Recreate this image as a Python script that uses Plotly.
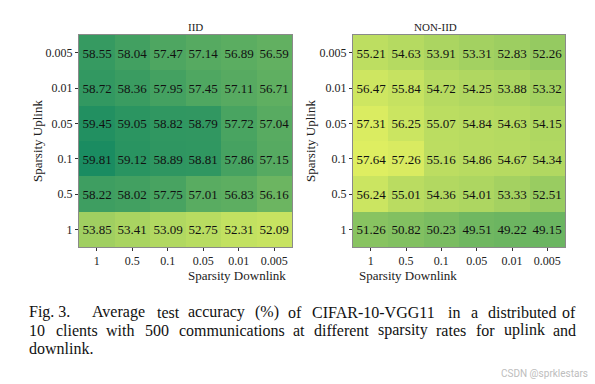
import math
import plotly.graph_objects as go

downlink = ["1", "0.5", "0.1", "0.05", "0.01", "0.005"]
uplink = ["0.005", "0.01", "0.05", "0.1", "0.5", "1"]

iid = [
    [58.55, 58.04, 57.47, 57.14, 56.89, 56.59],
    [58.72, 58.36, 57.95, 57.45, 57.11, 56.71],
    [59.45, 59.05, 58.82, 58.79, 57.72, 57.04],
    [59.81, 59.12, 58.89, 58.81, 57.86, 57.15],
    [58.22, 58.02, 57.75, 57.01, 56.83, 56.16],
    [53.85, 53.41, 53.09, 52.75, 52.31, 52.09],
]
noniid = [
    [55.21, 54.63, 53.91, 53.31, 52.83, 52.26],
    [56.47, 55.84, 54.72, 54.25, 53.88, 53.32],
    [57.31, 56.25, 55.07, 54.84, 54.63, 54.15],
    [57.64, 57.26, 55.16, 54.86, 54.67, 54.34],
    [56.24, 55.01, 54.36, 54.01, 53.33, 52.51],
    [51.26, 50.82, 50.23, 49.51, 49.22, 49.15],
]

titles = ["IID", "NON-IID"]
caption_lines = [
    ["Fig. 3.", "Average", "test", "accuracy", "(%)", "of", "CIFAR-10-VGG11", "in", "a",
     "distributed", "of"],
    ["10", "clients", "with", "500", "communications", "at", "different", "sparsity",
     "rates", "for", "uplink", "and"],
    ["downlink."],
]
watermark = "CSDN @sprklestars"


def summer(t):
    r = t
    g = 0.5 + 0.5 * t
    b = 0.38
    return "rgb(%d,%d,%d)" % (round(r * 255), round(g * 255), round(b * 255))


serif = "Liberation Serif, Times New Roman, serif"

fig = go.Figure()
fig.add_trace(go.Heatmap(
    z=iid, x=downlink, y=uplink, xaxis="x", yaxis="y",
    colorscale=[[0, summer(0.78)], [1, summer(0.10)]],
    showscale=False, texttemplate="%{z:.2f}",
    textfont=dict(family=serif, size=13, color="#111"),
    hoverinfo="skip",
))
fig.add_trace(go.Heatmap(
    z=noniid, x=downlink, y=uplink, xaxis="x2", yaxis="y2",
    colorscale=[[0, summer(0.42)], [1, summer(0.87)]],
    showscale=False, texttemplate="%{z:.2f}",
    textfont=dict(family=serif, size=13, color="#111"),
    hoverinfo="skip",
))

W, H = 595, 384
ydom = [(H - 247) / H, (H - 35) / H]
xdom1 = [79 / W, 292 / W]
xdom2 = [353 / W, 565 / W]

axis_common = dict(
    showgrid=False, zeroline=False, showline=True, mirror=True,
    linecolor="#8a8a8a", linewidth=1, ticks="outside", ticklen=3,
    tickcolor="#333", tickfont=dict(family=serif, size=12, color="#222"),
    type="category",
)

fig.update_layout(
    width=W, height=H, margin=dict(l=0, r=0, t=0, b=0),
    paper_bgcolor="white", plot_bgcolor="white",
    xaxis=dict(domain=xdom1, anchor="y", **axis_common),
    yaxis=dict(domain=ydom, anchor="x", autorange="reversed", **axis_common),
    xaxis2=dict(domain=xdom2, anchor="y2", **axis_common),
    yaxis2=dict(domain=ydom, anchor="x2", autorange="reversed", **axis_common),
)


def py(y):
    return (H - y) / H


ann = []
for i, (xd, t) in enumerate(zip([xdom1, xdom2], titles)):
    cx = (xd[0] + xd[1]) / 2
    ann.append(dict(text=t, x=cx, y=py(27), xref="paper", yref="paper",
                    yanchor="middle", showarrow=False,
                    font=dict(family=serif, size=11, color="#222")))
    ann.append(dict(text="Sparsity Downlink", x=cx, y=py(275), xref="paper",
                    yref="paper", yanchor="middle", showarrow=False,
                    font=dict(family=serif, size=13, color="#222")))
    ann.append(dict(text="Sparsity Uplink", x=[37, 310][i] / W, y=(ydom[0] + ydom[1]) / 2,
                    xref="paper", yref="paper", xanchor="center", yanchor="middle",
                    showarrow=False, textangle=-90,
                    font=dict(family=serif, size=13, color="#222")))

# approximate Times advance widths (per 1000 em), rounded per glyph like the renderer
TW = {' ': 250, 'a': 444, 'b': 500, 'c': 444, 'd': 500, 'e': 444, 'f': 333, 'g': 500,
      'h': 500, 'i': 278, 'j': 278, 'k': 500, 'l': 278, 'm': 778, 'n': 500, 'o': 500,
      'p': 500, 'q': 500, 'r': 333, 's': 389, 't': 278, 'u': 500, 'v': 500, 'w': 722,
      'x': 500, 'y': 500, 'z': 444, 'A': 722, 'C': 667, 'D': 722, 'F': 556, 'G': 722,
      'I': 333, 'R': 667, 'V': 722, '.': 250, '(': 333, ')': 333, '%': 833, '-': 333}


def tw(s, fs):
    return sum(math.floor(TW.get(c, 500) * fs / 1000.0 + 0.5) for c in s) + 2


cap_fs = 16
left, right = 27, 578
line_y = [312, 330, 348]
for j, words in enumerate(caption_lines):
    yy = py(line_y[j])
    if j == len(caption_lines) - 1:
        ann.append(dict(text=" ".join(words), x=left / W, y=yy, xref="paper", yref="paper",
                        xanchor="left", yanchor="middle", showarrow=False,
                        font=dict(family=serif, size=cap_fs, color="#111")))
        continue
    widths = [tw(w, cap_fs) for w in words]
    weights = [1.0] * (len(words) - 1)
    if words[0].startswith("Fig."):
        weights[0] = 2.4
    g = (right - left - sum(widths)) / sum(weights)
    x = left
    for k, w in enumerate(words):
        if k == len(words) - 1:
            ann.append(dict(text=w, x=right / W, y=yy, xref="paper", yref="paper",
                            xanchor="right", yanchor="middle", showarrow=False,
                            font=dict(family=serif, size=cap_fs, color="#111")))
        else:
            ann.append(dict(text=w, x=x / W, y=yy, xref="paper", yref="paper",
                            xanchor="left", yanchor="middle", showarrow=False,
                            font=dict(family=serif, size=cap_fs, color="#111")))
            x += widths[k] + g * weights[k]

ann.append(dict(text=watermark, x=590 / W, y=py(373), xref="paper", yref="paper",
                xanchor="right", yanchor="middle", showarrow=False,
                font=dict(family="Roboto, DejaVu Sans, sans-serif", size=10, color="#bdbdbd")))

fig.update_layout(annotations=ann)
fig.write_html("out.html", config={"displayModeBar": False},
               post_script="document.body.style.margin='0';")
